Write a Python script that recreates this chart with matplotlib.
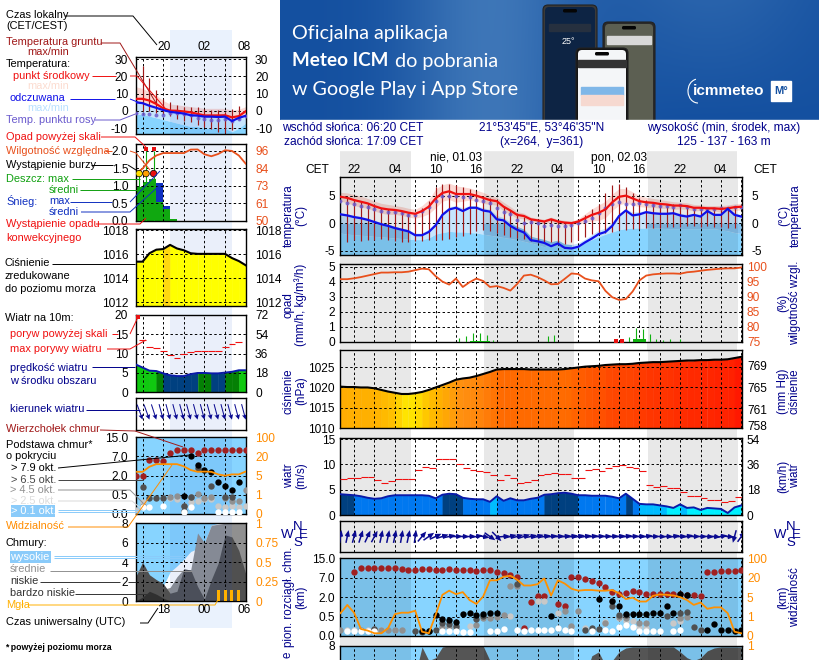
import numpy as np
import matplotlib
matplotlib.use("Agg")
import matplotlib.pyplot as plt
from matplotlib.colors import LinearSegmentedColormap
from matplotlib.patches import FancyBboxPatch, Rectangle, Arc

plt.rcParams['font.family'] = ['Liberation Sans', 'DejaVu Sans']
plt.rcParams['font.size'] = 9

W, H = 820, 660
NAVY = '#00008b'
HUM = '#e8501c'
VIS = '#ff8c00'
GND = '#a01818'
DEW = '#6a5acd'

# ---- main meteogram, hourly from 20:00 CET ----
hours = np.arange(60)
night = [(0, 10.4), (21.15, 34.4), (45.25, 58.5)]
t_mid = [4.8,4.6,4.2,3.9,3.6,3.1,2.7,2.5,2.4,2.2,1.9,1.7,2.2,3.0,4.5,5.5,5.8,5.3,5.3,5.3,5.0,4.6,4.2,4.0,3.0,2.3,1.5,1.3,0.7,0.5,0.3,0.7,0.3,0.1,0.0,0.3,0.9,1.5,1.9,2.5,3.8,4.8,5.0,4.5,4.0,3.8,3.7,3.5,3.4,3.2,3.2,3.1,2.8,2.8,2.7,2.7,2.6,2.7,2.9,3.0]
t_max = [5.6,5.5,5.2,4.9,4.5,4.0,3.6,3.4,3.2,3.0,2.7,2.5,3.2,4.3,6.2,7.0,7.3,6.8,6.6,6.4,6.0,5.6,5.0,4.7,3.8,3.0,2.1,1.8,1.1,0.9,0.7,1.1,0.7,0.5,0.4,0.8,1.7,2.6,3.3,4.0,5.3,6.3,6.3,5.7,5.0,4.7,4.5,4.3,4.1,3.9,3.8,3.7,3.4,3.3,3.2,3.2,3.2,3.3,3.5,3.6]
a_mid = [1.6,1.4,1.1,0.9,0.6,0.2,-0.2,-0.5,-0.9,-1.2,-1.5,-2.2,-2.2,-1.6,-0.4,1.5,2.5,2.8,2.2,2.8,2.8,2.3,2.1,0.7,0.5,-0.5,-1.2,-1.7,-3.1,-3.3,-3.6,-4.2,-3.7,-4.5,-4.6,-4.3,-3.5,-2.8,-2.0,-1.6,-0.5,1.3,2.3,1.4,1.6,2.0,1.8,1.7,1.7,1.8,1.4,1.2,1.5,1.2,2.2,1.5,1.5,2.6,1.5,1.2]
a_top = [1.9,1.7,1.4,1.2,0.9,0.5,0.1,-0.2,-0.6,-0.9,-1.2,-1.8,-1.8,-1.1,0.2,2.0,3.0,3.2,2.8,3.2,3.2,2.8,2.5,1.4,1.0,0.2,-0.6,-1.1,-2.4,-2.7,-3.0,-3.4,-3.1,-3.8,-3.9,-3.6,-2.9,-2.1,-1.3,-0.9,0.2,1.7,2.6,2.0,2.1,2.3,2.1,2.0,2.0,2.1,1.8,1.6,1.8,1.6,2.4,1.8,1.8,2.8,1.9,1.5]
a_low = [-1.8,-2.0,-2.1,-2.2,-2.3,-2.4,-2.5,-2.6,-2.7,-2.8,-2.9,-3.0,-3.0,-2.7,-2.0,-1.7,-1.5,-1.6,-1.6,-1.7,-1.8,-2.0,-2.2,-2.4,-2.6,-2.8,-3.0,-3.3,-3.6,-3.9,-4.3,-3.7,-4.3,-4.6,-4.5,-4.0,-3.5,-3.0,-2.5,-2.0,-1.6,-1.2,-1.0,-0.9,-0.9,-0.9,-0.9,-0.9,-1.0,-1.0,-1.0,-1.0,-1.0,-1.0,-1.0,-1.0,-1.2,-1.4,-1.7,-1.9]
dew = [4.1,3.7,3.4,3.2,2.9,2.5,2.3,2.0,2.0,1.8,1.5,1.4,2.2,3.0,4.0,4.9,5.0,4.9,4.8,4.7,4.3,4.1,3.6,2.7,2.1,1.6,0.5,0.1,0.2,0.0,-0.5,-0.3,-0.5,-0.6,-0.4,0.0,0.4,1.0,1.8,2.7,3.4,3.9,3.4,3.4,3.6,3.5,3.3,3.2,3.1,3.0,3.3,3.0,2.6,2.5,2.6,2.6,2.7,2.7,2.9,2.9]
gnd_hours = np.arange(1, 59)
gnd_max = [4.6,4.2,3.9,3.6,3.1,2.7,2.5,2.4,2.2,1.9,1.7,2.8,4.0,6.5,7.2,7.2,7.0,6.5,6.3,5.8,4.9,4.5,4.0,3.2,2.4,1.8,1.2,0.8,0.5,0.4,0.8,0.4,0.2,0.1,0.8,1.5,2.5,3.5,5.5,7.0,7.2,6.5,5.5,4.6,4.2,3.9,3.6,3.5,3.4,3.3,3.2,3.0,2.9,2.8,2.7,2.7,2.9,3.0]
gnd_min = [-3.5,-3.1,-3.2,-3.0,-3.0,-2.8,-3.0,-3.3,-3.4,-3.5,-3.3,-3.2,-3.0,-3.0,-3.0,-2.8,-2.6,-2.3,-2.0,-1.5,-1.3,-1.5,-1.8,-2.2,-2.5,-2.7,-2.9,-3.2,-3.5,-3.7,-3.5,-3.7,-3.8,-3.5,-3.0,-2.5,-2.0,-2.0,-1.8,-1.6,-1.3,-1.3,-1.0,-1.0,-0.9,-0.8,-0.8,-0.7,-0.7,-0.7,-0.6,-0.6,-0.7,-0.6,-0.7,-0.7,-0.8,-0.8]

humidity = [95.8,95.8,96.1,96.5,97.0,97.5,98.0,98.0,98.1,98.1,98.3,98.8,99.3,99.1,96.8,95.0,94.0,96.0,93.2,94.8,96.0,95.2,93.2,93.5,92.9,92.0,94.2,97.0,97.3,96.5,95.4,94.1,94.2,95.9,97.7,97.5,96.0,95.4,95.1,91.9,89.8,88.9,89.2,91.7,95.4,97.0,97.4,97.6,97.7,97.7,97.6,98.1,98.3,98.6,98.9,99.1,99.3,99.4,99.4,99.7]
rain_peak_h = [17.5,18.4,19.5,20.5,21.5,22.5,30.5,31.5,42.5,43.5,44.5,45.5,46.5,47.5,48.5,50]
rain_peak = [0.22,0.35,0.55,0.55,0.45,0.1,0.35,0.45,0.3,0.9,0.85,0.5,0.15,0.1,0.15,0.2]
rain_mean_h = [19,20,21,43,44]
rain_mean = [0.07,0.07,0.07,0.15,0.2]
conv_h = [40.5, 41.5]

pressure = [1020.2,1020.1,1020.1,1020.0,1020.0,1019.8,1019.4,1019.0,1018.7,1018.4,1018.4,1018.6,1018.9,1019.4,1020.0,1020.6,1021.2,1021.9,1022.2,1022.4,1022.8,1023.3,1023.8,1024.4,1024.5,1024.5,1024.5,1024.5,1024.4,1024.4,1024.4,1024.4,1024.4,1024.5,1024.7,1024.9,1025.1,1025.2,1025.3,1025.5,1025.6,1025.7,1025.7,1025.8,1026.0,1026.1,1026.2,1026.2,1026.3,1026.4,1026.5,1026.6,1026.6,1026.7,1026.7,1026.8,1026.8,1026.9,1027.2,1027.5]

wind = [4.1,4.0,3.9,3.7,3.4,3.2,3.3,3.7,3.9,3.9,3.9,3.9,3.9,3.8,3.3,4.0,4.2,4.1,3.4,3.2,3.1,3.1,2.6,3.7,2.8,3.3,2.9,2.9,3.2,3.4,4.0,4.1,4.3,4.4,4.2,3.9,3.9,3.8,3.8,3.8,3.6,3.3,4.2,3.2,2.2,2.1,2.1,1.9,1.7,1.4,2.1,1.4,1.5,1.0,1.4,1.3,1.2,0.4,1.5,1.9]
gust = [7.2,7.4,7.4,7.6,7.5,7.0,6.4,6.7,7.2,7.2,7.2,8.8,9.4,9.2,11.0,11.1,11.1,10.0,9.3,8.9,8.7,8.5,7.9,7.0,7.8,7.3,6.3,6.6,6.9,7.8,8.0,8.2,8.0,8.0,7.4,7.4,8.9,9.0,8.6,9.3,9.6,9.8,9.5,9.2,8.6,5.9,5.5,5.7,5.3,5.3,4.5,3.8,3.8,3.3,2.9,2.9,2.5,2.7,3.5,3.5]
wind_to = [8,12,15,18,25,28,12,12,12,10,12,8,40,55,65,72,78,88,90,88,80,100,125,135,85,75,75,72,78,75,80,82,84,82,80,78,80,82,84,85,84,82,80,85,85,80,90,92,88,80,85,78,90,92,95,95,80,95,195,35]

top_h = [2,3,4,5,6,7,8,9,10,11,12,13,14,15,16,17,18,19,20,21,22,23,24,25,26,27,28,29,30,32,33,34,35,36,37,38,39,40,41,42,43,44,45,46,47,48,49,50,51,52,53,54,55,56,57,58,59]
top_km = [9.2,10.8,10.8,10.8,10.8,10.8,10.8,10.4,10.2,10.2,10.6,10.6,10.2,10.2,10.6,10.2,10.2,10.2,9.6,10.2,10.0,9.4,8.8,8.2,7.2,0.2,1.6,2.3,2.3,1.5,1.35,7.2,7.2,6.8,6.2,5.6,4.6,3.3,2.8,3.0,3.6,3.4,2.8,2.7,2.8,2.8,2.7,2.7,2.6,2.5,2.4,9.2,9.2,9.7,9.7,9.7,10.0]
white_h = [1,2,3,4,5,15,16,17,18,19,22,23,24,26,27,28,29,30,31,32,33,34,37,39,40,41,42,43,44,45,46,47,49,50]
white_km = [0.13,0.13,0.13,0.13,0.13,0.14,0.14,0.13,0.11,0.11,0.14,0.14,0.18,0.155,0.14,0.15,0.155,0.155,0.16,0.21,0.15,0.14,0.14,0.155,0.14,0.22,0.28,0.22,0.13,0.14,0.13,0.12,0.13,0.155]
light_h = [1,2,4,6,19,25,29,30,32,34,36,39,41,42,43,44,45,49,50]
light_km = [0.155,0.155,0.155,0.155,0.27,0.52,1.7,1.7,0.76,0.24,0.2,0.37,0.46,0.39,0.39,0.24,0.21,0.34,0.39]
gray_h = [0,3,5,6,7,8,9,15,16,17,20,21,22,23,24,25,26,33,34,35,37,39,40,41,42,44,45,50,51]
gray_km = [0.155,0.155,0.17,0.155,0.155,0.155,0.155,0.24,0.24,0.2,0.285,0.46,0.46,0.5,0.63,4.75,4.75,0.94,0.26,0.94,0.155,0.33,1.7,0.5,0.46,0.33,0.33,0.46,0.5]
dark_h = [5,11,12,13,14,15,16,17,20,21,26,36,37,38,40,41,42,48,50,51,52,53]
dark_km = [0.17,0.14,0.11,0.13,0.155,0.33,0.3,0.26,0.44,0.53,5.35,0.155,0.2,0.18,1.35,0.63,0.63,0.57,0.76,0.85,0.22,0.155]
black_h = [12,13,14,15,16,17,18,19,20,21,22,23,31,38,40,41,42,43,44,45,46,47,48,49,50,51,54,55,56,57,58,59]
black_km = [0.13,0.13,0.63,0.44,0.42,0.37,0.73,0.8,0.63,0.68,0.75,0.8,0.55,1.87,1.67,1.33,0.73,0.73,0.68,0.68,0.76,0.8,1.28,0.8,2.75,2.5,0.155,0.3,0.155,0.155,0.13,0.155]
visibility = [1.7,3.4,1.8,0.36,0.28,0.14,0.14,0.4,1.5,1.8,1.8,2.2,0.22,0.14,1.3,6.8,10,7.3,8.9,4.4,3.6,5.5,18,18,24,28,18.5,14,14,15,19.5,6.2,18,15.5,11.5,10,10.5,10.5,10,10,10.5,8,4.6,4.9,4.1,4.1,6,7.1,6.8,6.3,5,4.4,3.4,3.9,2.6,2.9,2.9,1.7,0.22,0.14]
cloud_low = [0,0,0,0,0,0,0,0,0,0,0,5,7.9,6.5,6.8,7.9,8,8,8,8,8,8,6.5,6,6,6,6,6,6,6,5.5,5.5,5.5,5,5,5,5,7,7.4,6,6.5,7.4,7.8,7.9,7.9,7.9,7.9,7.9,7.9,7.9,7.4,6.8,6.5,6.8,7.5,7.8,7.9,7.9,7.9,7.9]

# ---- small 16 h panel on the left, hourly from 16:00 local ----
mhours = np.arange(17)
m_night = (5, 14)
m_t = [7,7,6,4,1.5,0.2,0.1,-0.3,-0.8,-1.7,-2.6,-2.6,-2.6,-2.5,-3.7,-3,-0.2]
m_tmax = [14,13,11,9,6,4,3.5,3,2.5,2,1.5,1.5,1.5,1.5,0.5,1,2.5]
m_a = [5,4.5,3,1.8,0.5,-0.5,-1,-1.5,-2.5,-2.7,-3.3,-3.3,-3.5,-3.3,-5.8,-4,-2.8]
m_alow = [-2,-2,-3,-4,-5,-6,-7,-8,-9,-9,-10,-10,-10,-10,-12,-10,-7]
m_dew = [-1.3,-1.5,-1.5,-2.2,-2.4,-1,-1.3,-1.9,-2.5,-4,-4.8,-5,-5,-4.8,-6,-4.5,-3]
m_gnd_h = [1,2,3,4,5,6,7,8,9,10,11,12,13,14,15]
m_gnd_max = [26,19,12,7,5,3.5,2.5,2,2,1,0.5,0.5,-0.5,1,3]
m_gnd_min = [0,0,-1,-2,-3,-4.5,-6,-6.5,-8,-9,-10.5,-12,-13,-11,-5]
m_hum = [81,84.3,89.8,93,94.6,94.6,94.6,94.6,96.9,97,93.8,92.5,94,96.5,96,93,87.6]
m_rain = [0.96,1.1,1.18,0.53,0.33,0.05]
m_snow = [0.96,1.1,1.18,1.08,0.43,0.05]
m_rain_x = [0,1,2,3,4,5]
m_peak_h = [0.5,1.5,2.6]
m_peak = [1.45,2.0,2.0]
m_storm_c = ['#ffe000', '#ffa000', '#e81010']
m_press = [1015.4,1015.4,1016.1,1016.4,1016.45,1016.8,1016.5,1016.35,1016.1,1016.05,1016.05,1016.05,1016.05,1016.05,1015.7,1015.45,1015.1]
m_wind = [7.2,6.4,5.6,5.5,4.9,4.4,4.2,4.2,4.7,5.0,5.0,4.9,4.9,5.1,5.3,5.7,5.7]
m_gust_h = [1,2,3,4,5,6,7,8,9,10,11,12,13,14,15]
m_gust = [13.5,11.8,11.4,10.6,9.6,8.8,9.8,10.5,10.7,10.8,10.6,10.6,11.6,12.6,12.9]
m_to = [165,160,160,162,165,165,165,165,165,165,165,165,165,165,165,165,165]
m_top_h = list(range(17))
m_top = [2,2,6.2,6.2,5.8,8.5,9.5,9.5,9.5,8.5,9.5,9.5,9.5,9.5,9.5,9.5,9.5]
m_white_h = [1,2,4,7,8,12,13,14,15]
m_white = [0.18,0.18,0.2,0.05,0.18,0.05,0.05,0.05,0.05]
m_light_h = [0,1,5,6,8,9,10,11,12,13,14,15,16]
m_light = [0.1,0.3,0.42,0.4,0.3,0.35,0.38,0.38,0.2,0.18,0.2,0.18,0.2]
m_gray_h = [1,5,6,7,8,9,10,11,13,14,15,16]
m_gray = [0.2,0.45,0.48,0.2,0.45,0.6,0.42,0.45,0.42,0.35,0.35,0.9]
m_dark_h = [1,2,3,4,7,7,8,9,11,13,14]
m_dark = [1.1,0.42,0.42,0.42,0.2,0.08,0.45,4.0,1.2,0.45,0.45]
m_black_h = [7,8,9,10,11,12,13,14,15]
m_black = [0.48,7,4.8,3.6,3,1.5,1.2,0.86,1.5]
m_vis = [8,8,12,14,14,14,14,12.3,9.4,8,8.2,8,6,5,6,6,8.2]
m_high = [0,0,0,0,1.5,3,3.6,4.3,5.1,5.4,6,7.8,8,8,8,8,8]
m_mid = [0,0,0,0,1.2,1.4,2.5,3.3,3.2,7,6,7.8,7.9,8,8,8,8]
m_low = [2.5,4,2.7,2.2,1.8,0.8,1,3.3,3.2,1.5,0.2,2.2,3.9,6.8,6.6,5.2,2.8]
m_vlow = [0,0.4,1,0.7,0.3,0,0,0,0,0,0,0,0,0,0,0,0]
m_fog_h = [12,13,14,15]
m_fog = [0.14,0.14,0.14,0.14]

PRESS_STOPS = [1016.55, 1016.7, 1018.4, 1019, 1020, 1022, 1024.5, 1026, 1027.5]
PRESS_COLS = ['#ffff00', '#ffd810', '#ffe400', '#ffc000', '#ffb000', '#ff9010', '#ff6a00', '#ff3a00', '#ff1000']
span = PRESS_STOPS[-1] - PRESS_STOPS[0]
press_cmap = LinearSegmentedColormap.from_list(
    'press', [((p - PRESS_STOPS[0]) / span, c) for p, c in zip(PRESS_STOPS, PRESS_COLS)])

fig = plt.figure(figsize=(W / 100, H / 100), dpi=100, facecolor='white')


def px_axes(x0, y0, x1, y1, zorder=1):
    return fig.add_axes([x0 / W, 1 - y1 / H, (x1 - x0) / W, (y1 - y0) / H], zorder=zorder)


# background: banner and day/night columns
bg = px_axes(0, 0, W, H, zorder=0)
bg.set_xlim(0, W)
bg.set_ylim(H, 0)
bg.axis('off')
gy, gx = np.mgrid[0:1:60j, 0:1:270j]
glow = np.exp(-((gx - 0.39) / 0.16) ** 2) * 0.9 + np.exp(-((gx - 0.8) / 0.2) ** 2) * 0.45 * (1 - gy)
base = np.array([20, 80, 160]) / 255
lift = np.array([66, 122, 186]) / 255
banner = base + glow[..., None].clip(0, 1) * (lift - base)
bg.imshow(banner, extent=(280, 820, 120, 0), aspect='auto', zorder=1)
bg.set_xlim(0, W)
bg.set_ylim(H, 0)
for a, b in night:
    x0, x1 = 340.5 + 6.78 * a, 340.5 + 6.78 * b
    bg.add_patch(Rectangle((x0, 149), x1 - x0, H - 149, color='#e8e8e8', lw=0))
bg.add_patch(Rectangle((170, 30), 61.7, 598, color='#eaf2fd', lw=0))

# phones in the banner
def phone(x0, y0, x1, y1, frame, screen, z):
    bg.add_patch(FancyBboxPatch((x0, y0), x1 - x0, y1 - y0, boxstyle='round,pad=0,rounding_size=5',
                                fc=frame, ec='#222222', lw=0.8, zorder=z))
    bg.add_patch(FancyBboxPatch((x0 + 2, y0 + 2), x1 - x0 - 4, y1 - y0, boxstyle='round,pad=0,rounding_size=4',
                                fc=screen, ec='none', zorder=z + 0.1))
    bg.add_patch(FancyBboxPatch(((x0 + x1) / 2 - 7, y0 + 4), 14, 3.5, boxstyle='round,pad=0,rounding_size=1.5',
                                fc='#050505', ec='none', zorder=z + 0.2))


phone(543, 5, 597, 135, '#3a3a3a', '#0d2444', 3)
phone(603, 22, 655, 135, '#2a2a2a', '#5c5f52', 4)
phone(576, 48, 628, 135, '#151515', '#f4f6f8', 5)
bg.add_patch(Rectangle((280, 120), 540, 30, color='white', zorder=6))
bg.add_patch(Rectangle((549, 24), 41, 7, color='#26303f', zorder=3.5))
bg.add_patch(Rectangle((607, 36), 44, 8, color='#d8d8d8', zorder=4.5))
bg.add_patch(Rectangle((578, 60), 48, 7, color='#333333', zorder=5.5))
bg.add_patch(Rectangle((581, 87), 42, 8, color='#7fb7e8', zorder=5.5))
bg.add_patch(Rectangle((581, 95), 42, 10, color='#f6d9d0', zorder=5.5))
bg.text(568, 42, '25°', color='white', fontsize=6.5, ha='center', va='center', zorder=5)
for txt, x, y, fs_, kw in [('Oficjalna aplikacja', 292, 33, 14.2, {}),
                           ('Meteo ICM', 292, 61, 13.6, {'fontweight': 'bold'}),
                           ('do pobrania', 395, 61, 14.2, {}),
                           ('w Google Play i App Store', 292, 89, 14.2, {})]:
    bg.text(x, y, txt, color='white', fontsize=fs_, family='Lato', va='center', ha='left', zorder=7, **kw)
bg.text(693, 91, 'icmmeteo', color='white', fontsize=11, fontweight='bold', va='center', zorder=7)
bg.add_patch(Arc((698, 91), 20, 24, theta1=90, theta2=260, color='white', lw=0.8, zorder=7))
bg.add_patch(Rectangle((771, 81), 20, 20, color='white', zorder=7))
bg.text(781, 91, 'M°', color='#1450a0', fontsize=8, fontweight='bold', ha='center', va='center', zorder=8)


def panel(rect, xlim, xgrid, ylim, lticks, llabels, rticks=None, rlabels=None, rcolor='black',
          spans=(), span_color='black', span_alpha=0.09, lpad=4, rpad=7, fs=8.6, lcolor='black'):
    ax = px_axes(*rect)
    ax.set_xlim(*xlim)
    ax.set_ylim(*ylim)
    ax.set_xticks(xgrid)
    ax.set_yticks(lticks)
    ax.set_yticklabels(llabels, fontsize=fs, color=lcolor)
    ax.tick_params(length=0, labelbottom=False, pad=lpad)
    ax.set_axisbelow('line')
    ax.grid(True, color='black', lw=0.7, ls=(0, (2.5, 2.5)))
    for sp in ax.spines.values():
        sp.set_linewidth(1.0)
    for a, b in spans:
        ax.axvspan(a, b, color=span_color, alpha=span_alpha, lw=0, zorder=0.8)
    if rticks is not None:
        rax = ax.twinx()
        rax.set_ylim(*ylim)
        rax.set_yticks(rticks)
        rax.set_yticklabels(rlabels, fontsize=fs, color=rcolor)
        rax.tick_params(length=0, pad=rpad)
        for sp in rax.spines.values():
            sp.set_visible(False)
    return ax


def wind_col(v, mini=False):
    if mini:
        return '#10c810' if v >= 5.55 else '#048004' if v >= 5.0 else '#004080'
    if v >= 4.0:
        return '#004080'
    if v >= 2.8:
        return '#0078f0'
    if v >= 1.9:
        return '#00bcff'
    return '#00f0ff'


def to_pos(km):
    return np.interp(km, [0, 0.5, 2, 7, 15], [0, 1, 2, 3, 4])


def vis_pos(km):
    return np.interp(km, [0, 1, 5, 20, 100], [0, 1, 2, 3, 4])


def dots(ax, h, km, color, s=21, z=3):
    ax.scatter(h, to_pos(km), s=s, color=color, lw=0, zorder=z)


def column_fill(ax, h, vals, floor, cols):
    # one colour per hour, the thin edge closes the seam between neighbours
    for i in range(len(h) - 1):
        ax.fill_between(h[i:i + 2], vals[i:i + 2], floor, facecolor=cols[i], edgecolor=cols[i], lw=0.4, zorder=1.2)


def temp_panel(ax, h, tm, tx, am, at, al, dw, gh, gx_, gn):
    h = np.asarray(h)
    tm, tx, am, at, al = map(np.asarray, (tm, tx, am, at, al))
    ax.fill_between(h, tm - (tx - tm), tx, color='#fbd9d4', lw=0, zorder=0.3)
    ax.fill_between(h, al, at, color='#c6e5fd', lw=0, zorder=0.4)
    ax.fill_between(h, -40, al, color='#87d4ff', lw=0, zorder=0.5)
    ax.vlines(gh, gn, gx_, color=GND, lw=0.85, zorder=3)
    ax.scatter(h, dw, s=8, color=DEW, marker='o', lw=0, zorder=3.1, alpha=0.85)
    ax.plot(h, tm, color='#f01010', lw=1.6, zorder=4)
    ax.plot(h, am, color='#1010e8', lw=1.6, zorder=4)


# ---- main panels ----
MX = (0, 59.1)
MG = np.arange(2, 60, 3)
hx = np.array(hours)

ax = panel((340.5, 177, 742, 255), MX, MG, (-5.8, 8.4), [-5, 0, 5], ['-5', '0', '5'],
           [-5, 0, 5], ['-5', '0', '5'], spans=night)
temp_panel(ax, hours, t_mid, t_max, a_mid, a_top, a_low, dew, gnd_hours, gnd_max, gnd_min)
for a, b in night:
    ax.fill_between(hx, np.minimum(a_top, 0), np.minimum(a_low, 0), where=(hx >= a - 0.5) & (hx <= b + 0.5),
                    color='#86c3f0', lw=0, zorder=0.6)

ax = panel((340.5, 264, 742, 342), MX, MG, (-0.02, 5.17), range(6), [str(i) for i in range(6)],
           range(6), ['75', '80', '85', '90', '95', '100'], rcolor=HUM, spans=night, rpad=3.6)
ax.plot(hours, (np.array(humidity) - 75) / 5, color=HUM, lw=1.3, zorder=4)
ax.vlines(rain_peak_h, 0, rain_peak, color='#10b010', lw=0.8, zorder=3)
ax.bar(rain_mean_h, rain_mean, width=1, align='edge', color='#10b010', lw=0, zorder=3)
ax.scatter(conv_h, [0.02, 0.02], s=7, marker='s', color='#e81010', lw=0, zorder=5)

ax = panel((340.5, 350.3, 742, 428.3), MX, MG, (1010, 1029.1), [1010, 1015, 1020, 1025],
           ['1010', '1015', '1020', '1025'], [1010.6, 1014.6, 1019.9, 1025.3], ['758', '761', '765', '769'],
           spans=night, rpad=3.6)
column_fill(ax, hours, pressure, 1010, [press_cmap((p - PRESS_STOPS[0]) / span) for p in pressure])
ax.plot(hours, pressure, color='black', lw=1.5, zorder=4)

ax = panel((340.5, 438, 742, 515), MX, MG, (0, 15.2), [0, 5, 10, 15], ['0', '5', '10', '15'],
           [0, 5, 10, 15], ['0', '18', '36', '54'], spans=night, rpad=3.6)
column_fill(ax, hours, wind, 0, [wind_col(v) for v in wind])
ax.plot(hours, wind, color='#0a1aa8', lw=1.4, zorder=4)
ax.hlines(gust, hours, hours + 1, color='#f01010', lw=0.8, zorder=4)

ax = panel((340.5, 521.3, 742, 551.7), MX, MG, (-1, 1), [], [], spans=night)
ang = np.radians(wind_to)
ax.quiver(hours, np.zeros(60), 13 * np.sin(ang), 13 * np.cos(ang), pivot='mid', angles='uv', units='dots',
          scale_units='dots', scale=1, width=1.5, headwidth=3.5, headlength=4, color='#0a0a90', zorder=4)

ax = panel((340.5, 558.3, 742, 636), MX, MG, (0, 4), range(5), ['0.0', '0.5', '2.0', '7.0', '15.0'],
           range(5), ['0', '1', '5', '20', '100'], rcolor=VIS, spans=night, rpad=3.6)
ax.set_facecolor('#87d4ff')
dots(ax, top_h, top_km, '#a02020')
dots(ax, light_h, light_km, '#c8c8c8')
dots(ax, gray_h, gray_km, '#909090')
dots(ax, dark_h, dark_km, '#505050')
dots(ax, black_h, black_km, 'black')
dots(ax, white_h, white_km, 'white', z=3.2)
ax.plot(hours, vis_pos(visibility), color='#ff9000', lw=1.3, zorder=4)

ax = panel((340.5, 646, 742, 724), MX, MG, (0, 8), [8], ['8'], [8], ['1'], rcolor=VIS, spans=night, rpad=3.6)
ax.set_facecolor('#87d4ff')
ax.fill_between(hours, 0, cloud_low, color='#555555', lw=0, zorder=0.6)

# ---- left 16 h panels ----
LX = (0, 16)
LG = [1, 4, 7, 10, 13]
lk = dict(spans=[m_night], span_color='#1a4fc8', lpad=5.5, rpad=6.7)

ax = panel((135.7, 57.3, 245.7, 134.3), LX, LG, (-13.5, 31), [-10, 0, 10, 20, 30],
           ['-10', '0', '10', '20', '30'], [-10, 0, 10, 20, 30], ['-10', '0', '10', '20', '30'], **lk)
temp_panel(ax, mhours, m_t, m_tmax, m_a, m_a, m_alow, m_dew, m_gnd_h, m_gnd_max, m_gnd_min)

ax = panel((135.7, 144, 245.7, 220.5), LX, LG, (0, 2.2), [0, 0.5, 1, 1.5, 2],
           ['0.0', '0.5', '1.0', '1.5', '2.0'], [0, 0.5, 1, 1.5, 2], ['50', '61', '73', '84', '96'],
           rcolor=HUM, **lk)
ax.bar(m_rain_x, m_snow, width=1, align='edge', color='#1030c0', lw=0, zorder=1.2)
ax.bar(m_rain_x, m_rain, width=1, align='edge', color='#10a810', lw=0, zorder=1.3)
ax.vlines(m_peak_h, 0, m_peak, color='#10a810', lw=0.8, zorder=3)
ax.scatter(m_peak_h, [1.35] * 3, s=22, c=m_storm_c, edgecolors='black', linewidths=0.5, zorder=5)
ax.scatter(m_peak_h[1:], [2.05] * 2, s=7, marker='s', color='#e81010', lw=0, zorder=5)
ax.plot(mhours, (np.array(m_hum) - 50) / 23, color=HUM, lw=1.3, zorder=4)

ax = panel((135.7, 229.3, 245.7, 306), LX, LG, (1011.7, 1018.1), [1012, 1014, 1016, 1018],
           ['1012', '1014', '1016', '1018'], [1012, 1014, 1016, 1018], ['1012', '1014', '1016', '1018'], **lk)
column_fill(ax, mhours, m_press, 1011, [press_cmap((p - PRESS_STOPS[0]) / span) for p in m_press[1:]])
ax.plot(mhours, m_press, color='black', lw=1.5, zorder=4)

ax = panel((135.7, 315, 245.7, 392.3), LX, LG, (0, 20), [0, 5, 10, 15, 20], ['0', '5', '10', '15', '20'],
           [0, 5, 10, 15, 20], ['0', '18', '36', '54', '72'], **lk)
column_fill(ax, mhours, m_wind, 0, [wind_col(v, True) for v in m_wind])
ax.plot(mhours, m_wind, color='#0a1aa8', lw=1.4, zorder=4)
ax.hlines(m_gust, np.array(m_gust_h) - 0.5, np.array(m_gust_h) + 0.5, color='#f01010', lw=0.8, zorder=4)
ax.scatter([0.4], [19.6], s=7, marker='s', color='#e81010', lw=0, zorder=5)

ax = panel((135.7, 398, 245.7, 430), LX, LG, (-1, 1), [], [], **lk)
ang = np.radians(m_to)
ax.quiver(mhours, np.full(17, -0.35), 16 * np.sin(ang), 16 * np.cos(ang), pivot='tip', angles='uv', units='dots',
          scale_units='dots', scale=1, width=1.0, headwidth=5, headlength=5, color='#0a0a90', zorder=4)

ax = panel((135.7, 437.3, 245.7, 514), LX, LG, (0, 4), range(5), ['0.0', '0.5', '2.0', '7.0', '15.0'],
           range(5), ['0', '1', '5', '20', '100'], rcolor=VIS, **lk)
ax.set_facecolor('#87d4ff')
dots(ax, m_top_h, m_top, '#a02020')
dots(ax, m_light_h, m_light, '#c8c8c8')
dots(ax, m_gray_h, m_gray, '#909090')
dots(ax, m_dark_h, m_dark, '#505050')
dots(ax, m_black_h, m_black, 'black')
dots(ax, m_white_h, m_white, 'white', z=3.2)
ax.plot(mhours, vis_pos(m_vis), color='#ff9000', lw=1.3, zorder=4)

ax = panel((135.7, 523.3, 245.7, 601), LX, LG, (0, 8), [0, 2, 4, 6, 8], ['0', '2', '4', '6', '8'],
           [0, 2, 4, 6, 8], ['0', '0.25', '0.5', '0.75', '1'], rcolor=VIS, **lk)
ax.set_facecolor('#87d4ff')
ax.fill_between(mhours, 0, m_high, color='white', lw=0, zorder=0.5)
ax.fill_between(mhours, 0, m_mid, color='#909090', lw=0, zorder=0.55)
ax.fill_between(mhours, 0, m_low, color='#505050', lw=0, zorder=0.6)
ax.fill_between(mhours, 0, m_vlow, color='#303030', lw=0, zorder=0.65)
ax.bar(m_fog_h, np.array(m_fog) * 8, width=0.45, color='#ffb000', lw=0, zorder=3)

# ---- every label and callout in picture pixels ----
ov = px_axes(0, 0, W, H, zorder=5)
ov.set_xlim(0, W)
ov.set_ylim(H, 0)
ov.axis('off')


def note(x, y, txt, color='black', fs=7.9, **kw):
    kw.setdefault('ha', 'left')
    ov.text(x, y, txt, color=color, fontsize=fs, va='center', **kw)


def link(xs, ys, color='black', lw=0.7):
    ov.plot(xs, ys, color=color, lw=lw, solid_capstyle='butt')


note(6, 15, 'Czas lokalny')
note(6, 26, '(CET/CEST)')
link([65, 133, 157], [16, 16, 45])
for x, s in [(164, '20'), (204, '02'), (244, '08')]:
    note(x, 47, s, ha='center', fs=8.6)
note(6, 42, 'Temperatura gruntu', GND)
note(27, 52, 'max/min', GND)
link([101, 120, 156], [43, 43, 103], GND)
note(6, 64, 'Temperatura:')
note(13, 76, 'punkt środkowy', '#f01010')
link([92, 116], [76, 76], '#f01010')
link([130, 137, 165], [76, 76, 108], '#f01010')
note(27, 86, 'max/min', '#fcdcd0')
note(10, 98, 'odczuwana', '#1010e8')
link([70, 115], [99, 99], '#1010e8')
link([130, 140], [99, 103], '#1010e8')
note(27, 108, 'max/min', '#b8e0ff')
note(6, 120, 'Temp. punktu rosy', DEW)
link([95, 120, 138], [120, 120, 113], DEW)
note(6, 137, 'Opad powyżej skali', '#f01010')
link([101, 135, 146], [137, 137, 147], '#f01010')
note(6, 151, 'Wilgotność względna', HUM)
link([105, 112], [151, 151], HUM)
link([130, 136, 150], [151, 153, 170], HUM)
note(6, 165, 'Wystąpienie burzy')
link([91, 113], [165, 165])
link([128, 136], [165, 170])
note(6, 179, 'Deszcz: max', '#10a010')
link([72, 140], [179, 179], '#10a010')
note(49, 190, 'średni', '#10a010')
link([80, 150], [190, 190], '#10a010')
note(6, 201, 'Śnieg:', '#1030c0')
note(49, 201, 'max', '#1030c0')
link([70, 112], [202, 202], '#1030c0')
link([130, 160], [202, 171], '#1030c0')
note(49, 212, 'średni', '#1030c0')
link([81, 130, 160], [212, 212, 185], '#1030c0')
note(6, 224, 'Wystąpienie opadu', '#f01010')
note(6, 238, 'konwekcyjnego', '#f01010')
link([96, 140, 146], [224, 224, 218], '#f01010')
note(5, 263, 'Ciśnienie')
link([52, 135], [264, 264])
note(5, 276, 'zredukowane')
note(5, 289, 'do poziomu morza')
note(5, 318, 'Wiatr na 10m:')
note(10, 334, 'poryw powyżej skali', '#f01010')
link([112, 118], [334, 334], '#f01010')
link([130, 138], [334, 317], '#f01010')
note(10, 349, 'max porywy wiatru', '#f01010')
link([107, 130, 146], [349, 349, 340], '#f01010')
note(10, 368, 'prędkość wiatru', NAVY)
link([92, 135], [367, 367], NAVY)
note(10, 381, 'w środku obszaru', NAVY)
note(10, 409, 'kierunek wiatru', NAVY)
link([86, 140], [410, 410], NAVY)
note(6, 429, 'Wierzchołek chmur', GND)
link([100, 135, 183], [430, 431, 447], GND)
note(6, 445, 'Podstawa chmur*')
note(6, 456, 'o pokryciu')
note(11, 468, '> 7.9 okt.')
link([58, 190], [468, 455])
note(11, 480, '> 6.5 okt.', '#444444')
link([58, 143], [480, 480], '#444444')
note(10, 490, '> 4.5 okt.', '#909090')
link([58, 130, 143], [490, 490, 503], '#909090')
note(11, 501, '> 2.5 okt.', '#dcdcdc')
link([58, 132, 143], [501, 501, 510], '#d8d8d8')
ov.add_patch(Rectangle((11, 505), 44, 12, color='#8acbfa', lw=0))
note(11, 511, '> 0.1 okt.', 'white')
link([58, 140], [510, 510], '#8acbfa')
link([58, 140], [512, 512], '#8acbfa')
note(6, 526, 'Widzialność', VIS)
link([68, 128, 172], [527, 527, 465], VIS)
note(6, 543, 'Chmury:')
ov.add_patch(Rectangle((10, 551), 41, 12, color='#8acbfa', lw=0))
note(10, 557, 'wysokie', 'white')
link([54, 185], [556, 556], '#8acbfa')
link([54, 185], [558, 558], '#8acbfa')
note(10, 569, 'średnie', '#909090')
link([50, 192], [571, 571], '#909090')
note(10, 581, 'niskie', '#333333')
link([40, 120], [582, 582], '#333333')
link([128, 136], [582, 582], '#333333')
note(10, 593, 'bardzo niskie', '#333333')
link([75, 150], [594, 594], '#333333')
note(6, 605, 'Mgła', '#ffb000')
link([28, 215, 219], [605, 605, 598], '#ffb000')
for x, s in [(164, '18'), (204, '00'), (244, '06')]:
    note(x, 610, s, ha='center', fs=8.6)
note(6, 622, 'Czas uniwersalny (UTC)')
link([140, 148, 158], [623, 623, 608])
note(5, 648, '* powyżej poziomu morza', fs=6.3, fontweight='bold')

# header of the main chart
note(282, 128, 'wschód słońca: 06:20 CET', NAVY, fs=8.6)
note(284, 142, 'zachód słońca: 17:09 CET', NAVY, fs=8.6)
note(542, 128, '21°53\'45"E, 53°46\'35"N', NAVY, fs=8.6, ha='center')
note(542, 142, '(x=264,  y=361)', NAVY, fs=8.6, ha='center')
note(724, 128, 'wysokość (min, środek, max)', NAVY, fs=8.6, ha='center')
note(724, 142, '125 - 137 - 163 m', NAVY, fs=8.6, ha='center')
note(456, 158, 'nie, 01.03', fs=8.6, ha='center')
note(619, 158, 'pon, 02.03', fs=8.6, ha='center')
note(317, 170, 'CET', fs=8.6, ha='center')
note(765, 170, 'CET', fs=8.6, ha='center')
for i, s in enumerate(['22', '04', '10', '16', '22', '04', '10', '16', '22', '04']):
    note(354 + 40.7 * i, 170, s, ha='center', fs=8.6)


def side(x, y, txt, color=NAVY):
    ov.text(x, y, txt, color=color, fontsize=8.4, rotation=90, ha='center', va='center',
            multialignment='center', linespacing=1.0)


side(295, 216, 'temperatura\n(°C)')
side(790, 216, '(°C)\ntemperatura')
side(295, 305, 'opad\n(mm/h, kg/m³/h)')
side(789, 303, '(%)\nwilgotność wzgl.')
side(295, 391, 'ciśnienie\n(hPa)')
side(789, 391, '(mm Hg)\nciśnienie')
side(295, 476, 'wiatr\n(m/s)')
side(789, 476, '(km/h)\nwiatr')
side(295, 597, 'pion. rozciągł. chm.\n(km)')
side(789, 597, '(km)\nwidzialność')
side(288, 655, 'e')
for x0 in (287, 780):
    for dx, dy, s in [(0, 535, 'W'), (11, 527, 'N'), (16, 535, 'E'), (11, 543, 'S')]:
        note(x0 + dx, dy, s, NAVY, fs=9.5, ha='center')

fig.savefig('out.png', dpi=100)
